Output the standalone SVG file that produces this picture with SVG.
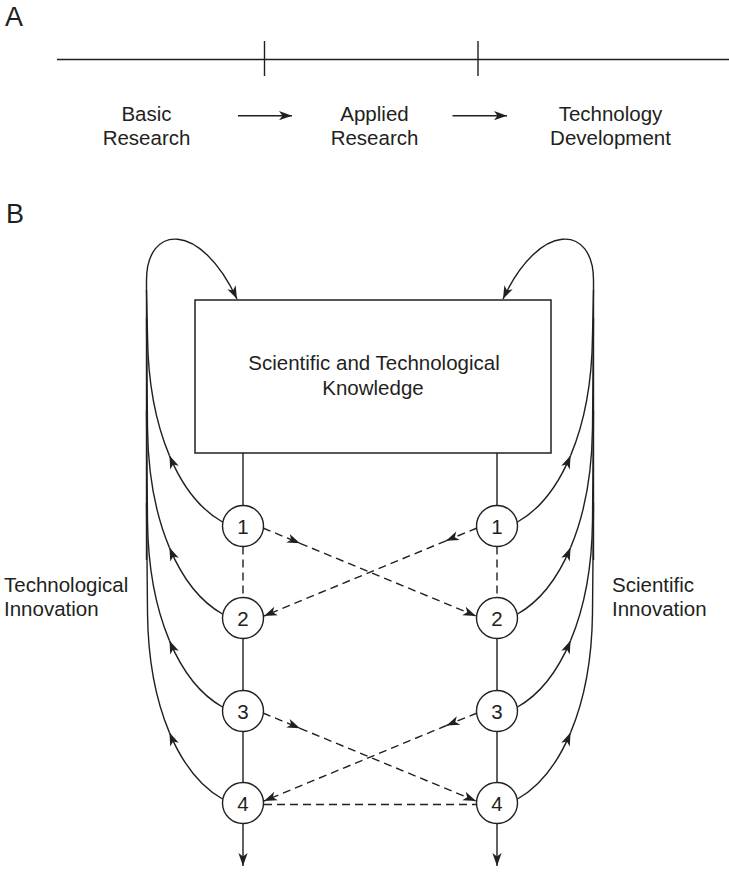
<svg xmlns="http://www.w3.org/2000/svg" width="729" height="872" viewBox="0 0 729 872">
<style>
text{font-family:"Liberation Sans",Arial,sans-serif;font-size:20.5px;fill:#231f20}
.hdr{font-size:27px}
.c{text-anchor:middle}
.ln{fill:none;stroke:#231f20;stroke-width:1.4}
.dash{fill:none;stroke:#231f20;stroke-width:1.4;stroke-dasharray:8,5}
.arr{marker-end:url(#ah)}
circle{fill:#fff;stroke:#231f20;stroke-width:1.4}
rect{fill:#fff;stroke:#231f20;stroke-width:1.5}
</style>
<defs>
<marker id="ah" viewBox="-14 -6 15 12" refX="0" refY="0" markerWidth="15" markerHeight="12" markerUnits="userSpaceOnUse" orient="auto">
<path d="M0,0 L-13,-4.6 L-9.5,0 L-13,4.6 Z" fill="#231f20"/>
</marker>
</defs>
<rect width="729" height="872" fill="#fff" style="stroke:none"/>

<g id="panelA">
<text class="hdr" x="5" y="26">A</text>
<path class="ln" d="M57,59.5 H729 M264.5,41 V76 M478,41 V76"/>
<path class="ln arr" d="M238,115.7 H292"/>
<path class="ln arr" d="M452.5,115.7 H507"/>
<text class="c" x="146.5" y="121">Basic</text>
<text class="c" x="146.5" y="145">Research</text>
<text class="c" x="374.5" y="121">Applied</text>
<text class="c" x="374.5" y="145">Research</text>
<text class="c" x="610.5" y="121">Technology</text>
<text class="c" x="610.5" y="145">Development</text>
</g>

<text class="hdr" x="6" y="223">B</text>

<g id="connectors">
<!-- box to circles, vertical chains -->
<path class="ln" d="M243,453 V506 M243,638.5 V691 M243,731.5 V783"/>
<path class="ln" d="M497,453 V506 M497,638.5 V691 M497,731.5 V783"/>
<path class="dash" d="M243,546.5 V598 M497,546.5 V598"/>
<path class="ln arr" d="M243,823.5 V866"/>
<path class="ln arr" d="M497,823.5 V866"/>

<!-- left bundle -->
<path class="ln arr" d="M146.5,560 V280 C146.5,225 200,220 237,299"/>
<path class="ln arr" d="M222.5,522 C201.25,510 182.75,487.25 169.44,455.62"/>
<path class="ln" d="M169.44,455.62 C156.13,424 148,383.5 147.5,336 L146.5,290"/>
<path class="ln arr" d="M222.5,614 C201.25,602 182.75,579.25 169.44,547.62"/>
<path class="ln" d="M169.44,547.62 C156.13,516 148,475.5 147.5,428 L146.5,318"/>
<path class="ln arr" d="M222.5,707 C201.25,695 182.75,672.25 169.44,640.62"/>
<path class="ln" d="M169.44,640.62 C156.13,609 148,568.5 147.5,521 L146.5,411"/>
<path class="ln arr" d="M222.5,799 C201.25,787 182.75,764.25 169.44,732.62"/>
<path class="ln" d="M169.44,732.62 C156.13,701 148,660.5 147.5,613 L146.5,503"/>

<!-- right bundle -->
<path class="ln arr" d="M593.5,560 V280 C593.5,225 540,220 503,299"/>
<path class="ln arr" d="M517.5,522 C538.75,510 557.25,487.25 570.56,455.62"/>
<path class="ln" d="M570.56,455.62 C583.87,424 592,383.5 592.5,336 L593.5,290"/>
<path class="ln arr" d="M517.5,614 C538.75,602 557.25,579.25 570.56,547.62"/>
<path class="ln" d="M570.56,547.62 C583.87,516 592,475.5 592.5,428 L593.5,318"/>
<path class="ln arr" d="M517.5,707 C538.75,695 557.25,672.25 570.56,640.62"/>
<path class="ln" d="M570.56,640.62 C583.87,609 592,568.5 592.5,521 L593.5,411"/>
<path class="ln arr" d="M517.5,799 C538.75,787 557.25,764.25 570.56,732.62"/>
<path class="ln" d="M570.56,732.62 C583.87,701 592,660.5 592.5,613 L593.5,503"/>

<!-- dashed crossings -->
<path class="dash arr" d="M263,528 L300,543.3"/>
<path class="dash arr" d="M300,543.3 L476,616"/>
<path class="dash arr" d="M477,528 L446,540.8"/>
<path class="dash arr" d="M446,540.8 L264,616"/>
<path class="dash arr" d="M263,713 L300,728.3"/>
<path class="dash arr" d="M300,728.3 L476,801"/>
<path class="dash arr" d="M477,713 L446.5,725.5"/>
<path class="dash arr" d="M446.5,725.5 L264,801"/>
<path class="dash" d="M264,804.5 H476"/>
</g>

<g id="knowledge">
<rect x="195" y="300" width="356" height="153"/>
<text class="c" x="374" y="370">Scientific and Technological</text>
<text class="c" x="373" y="395">Knowledge</text>
</g>

<g id="L1"><circle cx="243" cy="526" r="20.5"/><text class="c" x="243" y="533.5">1</text></g>
<g id="L2"><circle cx="243" cy="618" r="20.5"/><text class="c" x="243" y="625.5">2</text></g>
<g id="L3"><circle cx="243" cy="711" r="20.5"/><text class="c" x="243" y="718.5">3</text></g>
<g id="L4"><circle cx="243" cy="803" r="20.5"/><text class="c" x="243" y="810.5">4</text></g>
<g id="R1"><circle cx="497" cy="526" r="20.5"/><text class="c" x="497" y="533.5">1</text></g>
<g id="R2"><circle cx="497" cy="618" r="20.5"/><text class="c" x="497" y="625.5">2</text></g>
<g id="R3"><circle cx="497" cy="711" r="20.5"/><text class="c" x="497" y="718.5">3</text></g>
<g id="R4"><circle cx="497" cy="803" r="20.5"/><text class="c" x="497" y="810.5">4</text></g>

<g id="techInnovation">
<text x="4" y="592">Technological</text>
<text x="4" y="615.5">Innovation</text>
</g>
<g id="sciInnovation">
<text x="612" y="592">Scientific</text>
<text x="612" y="615.5">Innovation</text>
</g>
</svg>
